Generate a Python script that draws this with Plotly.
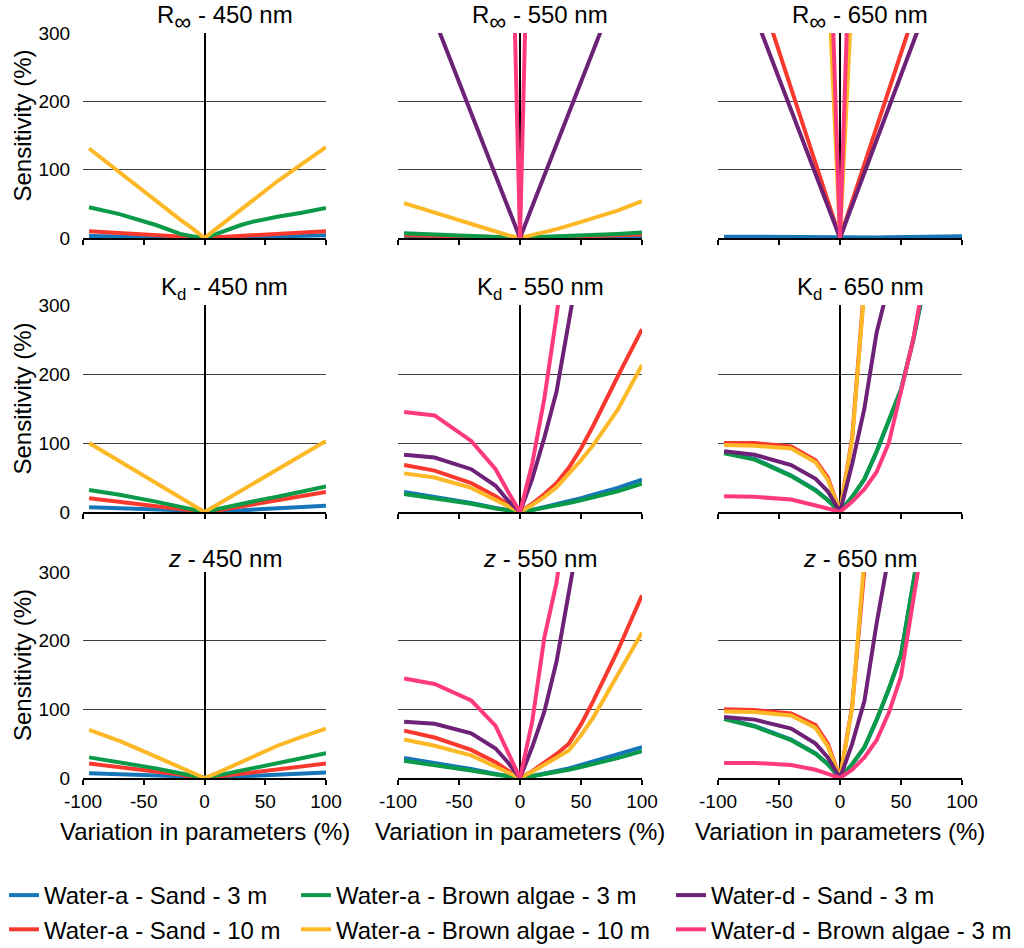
import plotly.graph_objects as go

# x positions of the computed points (% variation in the parameter)
x_pct = [-95, -70, -40, -20, -10, 0, 10, 20, 30, 40, 50, 60, 80, 100]
x_ticks = [-100, -50, 0, 50, 100]
x_ticktext = ["-100", "-50", "0", "50", "100"]
y_ticks = [0, 100, 200, 300]

# ---- R-infinity ----
rinf450_blue = [3, 2, 1, 0.5, 0.3, 0, 0.3, 0.6, 1, 1.4, 1.8, 2.2, 3, 4]
rinf450_red = [10, 7, 4, 2, 1, 0, 1, 2, 3, 4, 5, 6, 8, 10]
rinf450_green = [45, 35, 19, 6, 2.5, 0, 6, 13, 19, 24, 28, 31, 37, 44]
rinf450_yellow = [131, 96, 55, 27, 14, 0, 14, 28, 42, 56, 70, 83, 108, 133]

rinf550_blue = [2, 1.5, 1, 0.5, 0.2, 0, 0.3, 0.5, 0.8, 1, 1.3, 1.6, 2, 2.5]
rinf550_red = [4, 3, 2, 1, 0.5, 0, 0.5, 1, 1.5, 2, 2.5, 3, 4, 5]
rinf550_green = [7, 5, 3, 2, 1, 0, 1, 1.5, 2, 3, 4, 5, 6, 8]
rinf550_yellow = [51, 37, 20, 9, 4, 0, 4, 9, 13, 18, 24, 29, 40, 54]
rinf550_purple = [434, 320, 183, 91, 46, 0, 46, 91, 137, 183, 229, 274, 366, 457]
rinf550_pink = [6900, 5100, 2900, 1460, 730, 0, 730, 1460, 2190, 2920, 3650, 4380, 5840, 7300]

rinf650_blue = [2, 1.5, 1, 0.5, 0.3, 0, 0.3, 0.5, 0.8, 1, 1.2, 1.5, 2, 2.5]
rinf650_red = [519, 382, 218, 109, 55, 0, 54, 108, 162, 216, 270, 325, 433, 541]
rinf650_yellow = [3750, 2765, 1580, 790, 395, 0, 366, 732, 1098, 1464, 1830, 2196, 2928, 3660]
rinf650_purple = [444, 327, 187, 93, 47, 0, 48, 95, 143, 191, 239, 286, 382, 477]
rinf650_pink = [5180, 3815, 2180, 1090, 545, 0, 545, 1090, 1635, 2180, 2725, 3270, 4360, 5450]

# ---- Kd ----
kd450_blue = [7, 5.5, 3, 1.5, 0.7, 0, 0.8, 1.5, 2.5, 3.5, 4.5, 5.5, 7, 9]
kd450_red = [20, 15, 9, 4, 2, 0, 2, 5, 8, 11, 14, 17, 23, 29]
kd450_green = [32, 25, 15, 7, 3, 0, 4, 8, 11, 15, 19, 22, 30, 37]
kd450_yellow = [100, 74, 42, 21, 10.5, 0, 10, 20.5, 31, 41, 51, 61, 82, 103]

kd550_blue = [29, 22, 13, 6, 3, 0, 3, 7, 11, 15, 20, 25, 35, 47]
kd550_red = [68, 60, 42, 23, 11, 0, 12, 26, 42, 64, 92, 125, 196, 265]
kd550_green = [26, 20, 12, 5, 2.5, 0, 3, 6, 9, 13, 17, 21, 30, 41]
kd550_yellow = [56, 50, 35, 18, 9, 0, 10, 22, 36, 55, 75, 97, 148, 213]
kd550_purple = [83, 79, 62, 38, 17, 0, 48, 108, 175, 275, 380, 480, 680, 880]
kd550_pink = [145, 140, 103, 62, 30, 0, 70, 165, 285, 420, 560, 700, 980, 1260]

kd650_blue = [86, 77, 53, 32, 17.5, 0, 22, 47, 87, 131, 177, 248, 418, 600]
kd650_red = [100, 100, 95, 75, 50, 0, 108, 330, 550, 770, 990, 1200, 1650, 2100]
kd650_green = [85, 76, 52, 31, 17, 0, 22, 48, 88, 132, 178, 250, 420, 600]
kd650_yellow = [97, 96, 92, 72, 47, 0, 105, 325, 545, 765, 985, 1200, 1640, 2080]
kd650_purple = [88, 83, 68, 48, 30, 0, 70, 150, 260, 330, 440, 550, 770, 990]
kd650_pink = [23, 22, 18, 10, 5, 0, 15, 33, 58, 100, 175, 250, 450, 650]

# ---- z ----
z450_blue = [7, 5.5, 3, 1.5, 0.7, 0, 0.8, 1.6, 2.4, 3.2, 4, 4.8, 6.4, 8]
z450_red = [21, 16, 10, 5, 2, 0, 2, 4, 6, 8.5, 10.5, 12.5, 17, 21]
z450_green = [30, 23, 14, 7, 3, 0, 3.5, 7, 10.5, 14, 18, 21, 29, 36]
z450_yellow = [70, 54, 31, 15, 7.5, 0, 7, 15, 23, 32, 40, 47, 60, 72]

z550_blue = [29, 22, 13, 6, 3, 0, 3, 6.5, 10, 14, 19, 24, 34, 45]
z550_red = [69, 59, 41, 23, 11, 0, 10, 22, 35, 50, 78, 112, 185, 266]
z550_green = [25, 19, 11, 5, 2.5, 0, 2.5, 5.5, 8.5, 12, 16, 20, 29, 39]
z550_yellow = [56, 47, 33, 16, 8, 0, 9, 19, 29, 40, 62, 88, 150, 212]
z550_purple = [82, 79, 65, 43, 23, 0, 45, 97, 170, 275, 370, 470, 670, 870]
z550_pink = [145, 137, 113, 76, 38, 0, 82, 205, 285, 410, 540, 670, 930, 1190]

z650_blue = [87, 76, 56, 36, 20.5, 0, 20, 44, 84, 129, 179, 296, 498, 700]
z650_red = [100, 99, 94, 77, 50, 0, 105, 305, 505, 705, 905, 1100, 1500, 1900]
z650_green = [86, 75, 55, 35, 20, 0, 20, 45, 85, 130, 180, 298, 500, 700]
z650_yellow = [97, 96, 91, 73, 46, 0, 103, 320, 537, 754, 970, 1190, 1620, 2050]
z650_purple = [89, 85, 72, 50, 30, 0, 50, 112, 225, 320, 420, 520, 720, 920]
z650_pink = [22, 22, 19, 12, 6, 0, 12, 30, 55, 95, 148, 250, 480, 700]

series_names = [
    "Water-a - Sand - 3 m",
    "Water-a - Sand - 10 m",
    "Water-a - Brown algae - 3 m",
    "Water-a - Brown algae - 10 m",
    "Water-d - Sand - 3 m",
    "Water-d - Brown algae - 3 m",
]
series_colors = ["#1576BA", "#F9382E", "#0B9A48", "#FDB827", "#6E2277", "#FF3A7C"]
series_legend = ["legend", "legend", "legend2", "legend2", "legend3", "legend3"]

INF = "<span style='font-size:34px'><sub>∞</sub></span>"
panel_titles = [
    [f"R{INF} - 450 nm", f"R{INF} - 550 nm", f"R{INF} - 650 nm"],
    ["K<sub>d</sub> - 450 nm", "K<sub>d</sub> - 550 nm", "K<sub>d</sub> - 650 nm"],
    ["<i>z</i> - 450 nm", "<i>z</i> - 550 nm", "<i>z</i> - 650 nm"],
]

# series order per panel: blue, red, green, yellow, purple, pink
panels = [
    [
        [rinf450_blue, rinf450_red, rinf450_green, rinf450_yellow, None, None],
        [rinf550_blue, rinf550_red, rinf550_green, rinf550_yellow, rinf550_purple, rinf550_pink],
        [rinf650_blue, rinf650_red, None, rinf650_yellow, rinf650_purple, rinf650_pink],
    ],
    [
        [kd450_blue, kd450_red, kd450_green, kd450_yellow, None, None],
        [kd550_blue, kd550_red, kd550_green, kd550_yellow, kd550_purple, kd550_pink],
        [kd650_blue, kd650_red, kd650_green, kd650_yellow, kd650_purple, kd650_pink],
    ],
    [
        [z450_blue, z450_red, z450_green, z450_yellow, None, None],
        [z550_blue, z550_red, z550_green, z550_yellow, z550_purple, z550_pink],
        [z650_blue, z650_red, z650_green, z650_yellow, z650_purple, z650_pink],
    ],
]

W, H = 1024, 948
col_px = [(83, 326), (398, 642), (718, 962)]
row_px = [(33, 238), (305, 512), (572, 778)]
title_y = [18, 288, 558]
FONT = "Liberation Sans, Arial, Helvetica, sans-serif"

fig = go.Figure()
shown = set()
annotations = []

for r in range(3):
    for c in range(3):
        k = r * 3 + c + 1
        xname = "x" if k == 1 else f"x{k}"
        yname = "y" if k == 1 else f"y{k}"
        for s in range(6):
            vals = panels[r][c][s]
            if vals is None:
                continue
            fig.add_trace(go.Scatter(
                x=x_pct, y=vals, mode="lines",
                line=dict(color=series_colors[s], width=4),
                name=series_names[s], legendgroup=series_names[s],
                legend=series_legend[s],
                showlegend=s not in shown,
                xaxis=xname, yaxis=yname,
            ))
            shown.add(s)

        x0, x1 = col_px[c]
        y0, y1 = row_px[r]
        fig.layout["xaxis" if k == 1 else f"xaxis{k}"] = dict(
            domain=[x0 / W, x1 / W], anchor=yname, range=[-100, 100],
            tickvals=x_ticks, ticktext=x_ticktext, ticks="outside", ticklen=5,
            tickwidth=1.5, tickcolor="black", showline=True, linecolor="black",
            linewidth=1.5, showgrid=False, zeroline=True, zerolinecolor="black",
            zerolinewidth=2, showticklabels=(r == 2),
            tickfont=dict(size=19, color="black"), fixedrange=True,
        )
        fig.layout["yaxis" if k == 1 else f"yaxis{k}"] = dict(
            domain=[1 - y1 / H, 1 - y0 / H], anchor=xname, range=[0, 300],
            tickvals=y_ticks, showgrid=True, gridcolor="#3d3d3d",
            gridwidth=1, zeroline=False, showline=False, ticks="outside",
            ticklen=8, tickcolor="rgba(0,0,0,0)", showticklabels=(c == 0),
            tickfont=dict(size=19, color="black"), fixedrange=True,
        )

        cx = (x0 + x1) / 2
        annotations.append(dict(
            text=panel_titles[r][c], x=(cx + 20) / W, y=1 - title_y[r] / H,
            xref="paper", yref="paper", showarrow=False, xanchor="center",
            yanchor="middle", font=dict(size=24, color="black"),
        ))
        if c == 0:
            annotations.append(dict(
                text="Sensitivity (%)", x=22 / W, y=1 - ((y0 + y1) / 2 - 10) / H,
                xref="paper", yref="paper", showarrow=False, textangle=-90,
                xanchor="center", yanchor="middle", font=dict(size=24, color="black"),
            ))
        if r == 2:
            annotations.append(dict(
                text="Variation in parameters (%)", x=cx / W, y=1 - 831 / H,
                xref="paper", yref="paper", showarrow=False, xanchor="center",
                yanchor="middle", font=dict(size=24, color="black"),
            ))

legend_style = dict(
    xref="container", yref="container", yanchor="top", xanchor="left",
    orientation="v", font=dict(size=24, color="black"),
    bgcolor="rgba(0,0,0,0)", tracegroupgap=0, itemwidth=30,
)
fig.update_layout(
    width=W, height=H,
    margin=dict(l=0, r=0, t=0, b=0, autoexpand=False),
    paper_bgcolor="white", plot_bgcolor="white",
    font=dict(family=FONT, color="black"),
    annotations=annotations,
    legend=dict(x=4 / W, y=1 - 873 / H, **legend_style),
    legend2=dict(x=296 / W, y=1 - 873 / H, **legend_style),
    legend3=dict(x=671 / W, y=1 - 873 / H, **legend_style),
)

fig.write_html("out.html", config={"displayModeBar": False},
               post_script="document.body.style.margin='0';")
